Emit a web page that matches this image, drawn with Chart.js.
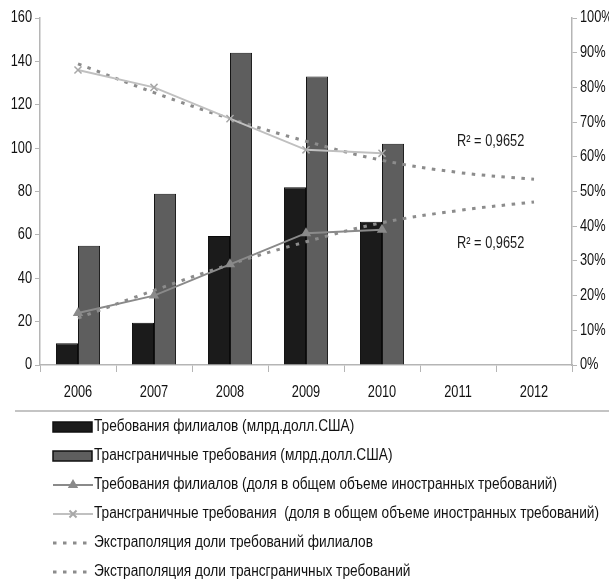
<!DOCTYPE html>
<html>
<head>
<meta charset="utf-8">
<script src="https://cdn.jsdelivr.net/npm/chart.js@4"></script>
<style>
  html, body { margin: 0; padding: 0; background: #fff; }
  #wrap { width: 609px; height: 585px; position: relative; }
</style>
</head>
<body>
<div id="wrap"><canvas id="chart"></canvas></div>
<script>
// Years on the x axis (last two only carry the extrapolation)
const years = ['2006', '2007', '2008', '2009', '2010', '2011', '2012'];

// Claims, billion USD (left axis)
const affiliateClaims = [10, 19.5, 59.5, 82, 66];
const crossBorderClaims = [55, 79, 144, 133, 102];

// Share of total foreign claims, % (right axis)
const affiliateShare = [15, 20, 29, 38, 39];
const crossBorderShare = [85, 80, 71, 62, 61];

// Trend lines extended to 2012, %
const affiliateTrend = [13.5, 21.5, 29, 35.5, 41, 44.5, 47];
const crossBorderTrend = [86.8, 78.5, 71, 64.5, 59, 55.5, 53.5];

const r2Label = 'R² = 0,9652';
const legendLabels = [
    'Требования филиалов (млрд.долл.США)',
    'Трансграничные требования (млрд.долл.США)',
    'Требования филиалов (доля в общем объеме иностранных требований)',
    'Трансграничные требования  (доля в общем объеме иностранных требований)',
    'Экстраполяция доли требований филиалов',
    'Экстраполяция доли трансграничных требований'
];

const FAMILY = '"Liberation Sans", "DejaVu Sans", sans-serif';
const NARROW = 0.8; // horizontal squeeze, the original uses a narrow font

// Write text squeezed horizontally
function narrowText(ctx, text, x, y, sx) {
    ctx.save();
    ctx.translate(x, y);
    ctx.scale(sx, 1);
    ctx.fillText(text, 0, 0);
    ctx.restore();
}

// Tick labels drawn from the chart's own scales, in the narrow style
const tickLabelPlugin = {
    id: 'narrowTicks',
    afterDraw(chart) {
        const ctx = chart.ctx;
        const area = chart.chartArea;
        ctx.save();
        ctx.font = '16px ' + FAMILY;
        ctx.fillStyle = '#111';
        ctx.textBaseline = 'middle';

        const x = chart.scales.x;
        ctx.textAlign = 'center';
        x.ticks.forEach((t, i) => {
            narrowText(ctx, years[t.value], x.getPixelForTick(i), area.bottom + 28, NARROW);
        });

        const y = chart.scales.y;
        ctx.textAlign = 'right';
        y.ticks.forEach((t, i) => {
            narrowText(ctx, String(t.value), area.left - 8, y.getPixelForTick(i), NARROW);
        });

        const y1 = chart.scales.y1;
        ctx.textAlign = 'left';
        y1.ticks.forEach((t, i) => {
            narrowText(ctx, t.value + '%', area.right + 8, y1.getPixelForTick(i), NARROW);
        });
        ctx.restore();
    }
};

// Draws the R² labels next to the trend lines
const r2Plugin = {
    id: 'r2',
    afterDatasetsDraw(chart) {
        const ctx = chart.ctx;
        const x = chart.scales.x;
        const y1 = chart.scales.y1;
        const px = x.getPixelForValue(5) + (x.getPixelForValue(6) - x.getPixelForValue(5)) * 0.43;
        ctx.save();
        ctx.font = '16px ' + FAMILY;
        ctx.fillStyle = '#1a1a1a';
        ctx.textAlign = 'center';
        ctx.textBaseline = 'middle';
        narrowText(ctx, r2Label, px, y1.getPixelForValue(64.5), NARROW);
        narrowText(ctx, r2Label, px, y1.getPixelForValue(35), NARROW);
        ctx.restore();
    }
};

// Legend as a column of rows under a separator line
const legendPlugin = {
    id: 'rowLegend',
    afterDraw(chart) {
        const ctx = chart.ctx;
        ctx.save();
        ctx.strokeStyle = '#c4c4c4';
        ctx.lineWidth = 2;
        ctx.beginPath();
        ctx.moveTo(15, 411);
        ctx.lineTo(609, 411);
        ctx.stroke();

        ctx.font = '16px ' + FAMILY;
        // squeeze so the longest row spans the same width as in the original
        const sx = Math.min(1, 505 / ctx.measureText(legendLabels[3]).width);

        const x0 = 53;
        chart.data.datasets.forEach((ds, i) => {
            const y = 427 + i * 29;
            if (ds.type === 'bar') {
                ctx.fillStyle = ds.backgroundColor;
                ctx.fillRect(x0, y - 5, 39, 10);
                ctx.strokeStyle = '#111';
                ctx.lineWidth = 1.5;
                ctx.strokeRect(x0, y - 5, 39, 10);
            } else if (ds.borderDash) {
                ctx.strokeStyle = ds.borderColor;
                ctx.lineWidth = ds.borderWidth;
                ctx.setLineDash(ds.borderDash);
                ctx.beginPath();
                ctx.moveTo(x0, y);
                ctx.lineTo(x0 + 40, y);
                ctx.stroke();
                ctx.setLineDash([]);
            } else {
                ctx.strokeStyle = ds.borderColor;
                ctx.lineWidth = ds.borderWidth;
                ctx.beginPath();
                ctx.moveTo(x0, y);
                ctx.lineTo(x0 + 40, y);
                ctx.stroke();
                ctx.strokeStyle = ds.pointBorderColor;
                ctx.fillStyle = ds.pointBackgroundColor;
                Chart.helpers.drawPoint(ctx, {
                    pointStyle: ds.pointStyle,
                    radius: ds.pointRadius,
                    borderWidth: 1.5,
                    rotation: 0
                }, x0 + 20, y);
            }
            ctx.font = '16px ' + FAMILY;
            ctx.fillStyle = '#111';
            ctx.textAlign = 'left';
            ctx.textBaseline = 'middle';
            narrowText(ctx, ds.label, x0 + 41, y, sx);
        });
        ctx.restore();
    }
};

const ctx = document.getElementById('chart').getContext('2d');
new Chart(ctx, {
    data: {
        labels: years,
        datasets: [
            {
                type: 'bar', label: legendLabels[0], data: affiliateClaims, yAxisID: 'y',
                backgroundColor: '#1b1b1b', borderColor: '#0a0a0a', borderWidth: 1,
                categoryPercentage: 0.58, barPercentage: 1.0, order: 2
            },
            {
                type: 'bar', label: legendLabels[1], data: crossBorderClaims, yAxisID: 'y',
                backgroundColor: '#5e5e5e', borderColor: '#151515', borderWidth: 1,
                categoryPercentage: 0.58, barPercentage: 1.0, order: 2
            },
            {
                type: 'line', label: legendLabels[2], data: affiliateShare, yAxisID: 'y1',
                borderColor: '#8a8a8a', borderWidth: 2, pointStyle: 'triangle', pointRadius: 4,
                pointBackgroundColor: '#8a8a8a', pointBorderColor: '#8a8a8a', order: 0
            },
            {
                type: 'line', label: legendLabels[3], data: crossBorderShare, yAxisID: 'y1',
                borderColor: '#c0c0c0', borderWidth: 2, pointStyle: 'crossRot', pointRadius: 5,
                pointBackgroundColor: '#a8a8a8', pointBorderColor: '#a8a8a8', pointBorderWidth: 1.5, order: 0
            },
            {
                type: 'line', label: legendLabels[4], data: affiliateTrend, yAxisID: 'y1',
                borderColor: '#8c8c8c', borderWidth: 3, borderDash: [3.5, 6.5], pointRadius: 0,
                tension: 0.4, order: 1
            },
            {
                type: 'line', label: legendLabels[5], data: crossBorderTrend, yAxisID: 'y1',
                borderColor: '#8c8c8c', borderWidth: 3, borderDash: [3.5, 6.5], pointRadius: 0,
                tension: 0.4, order: 1
            }
        ]
    },
    options: {
        responsive: true,
        maintainAspectRatio: false,
        animation: false,
        layout: { padding: { top: 18, right: 0, bottom: 182, left: 0 } },
        plugins: { legend: { display: false }, tooltip: { enabled: false } },
        scales: {
            x: {
                offset: true,
                grid: { offset: true, drawOnChartArea: false, color: '#b5b5b5', tickLength: 7 },
                border: { color: '#b5b5b5', width: 1.5 },
                ticks: { display: false },
                afterFit(scale) { scale.height = 38; }
            },
            y: {
                position: 'left', min: 0, max: 160,
                ticks: { stepSize: 20, display: false },
                grid: { drawOnChartArea: false, color: '#b5b5b5', tickLength: 5 },
                border: { color: '#b5b5b5', width: 1.5 },
                afterFit(scale) { scale.width = 40; }
            },
            y1: {
                position: 'right', min: 0, max: 100,
                ticks: { stepSize: 10, display: false },
                grid: { drawOnChartArea: false, color: '#b5b5b5', tickLength: 5 },
                border: { color: '#b5b5b5', width: 1.5 },
                afterFit(scale) { scale.width = 37; }
            }
        }
    },
    plugins: [tickLabelPlugin, r2Plugin, legendPlugin]
});
</script>
</body>
</html>
